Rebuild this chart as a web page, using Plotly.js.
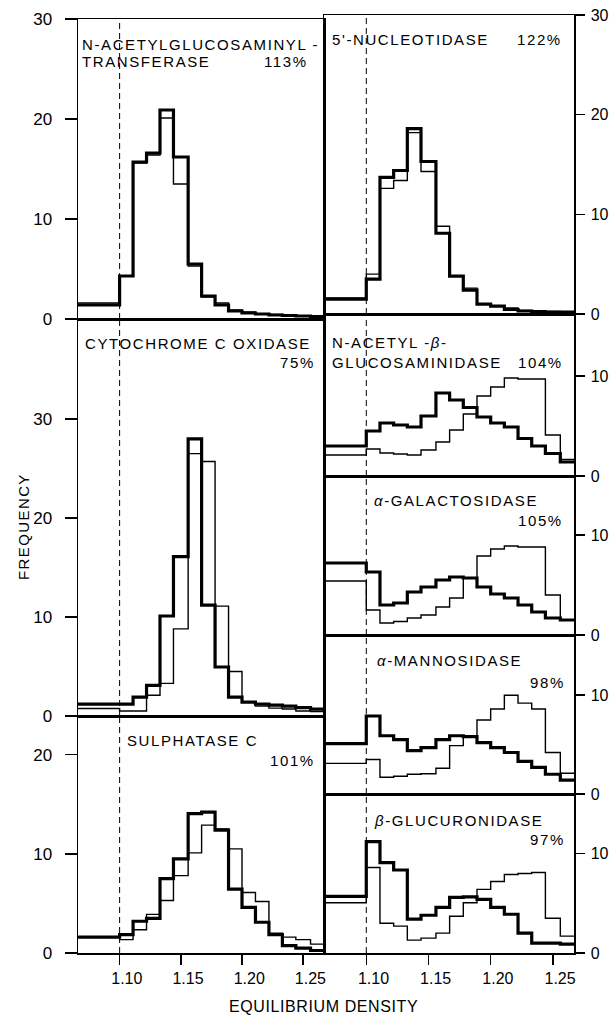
<!DOCTYPE html>
<html>
<head>
<meta charset="utf-8">
<script src="https://cdn.plot.ly/plotly-3.0.1.min.js"></script>
<style>html,body{margin:0;padding:0;background:#fff;}#chart{width:610px;height:1017px;}</style>
</head>
<body>
<div id="chart"></div>
<script>
// ---------------- DATA ----------------
// bin edges (equilibrium density, g/ml); first bin is the wide low-density bin
const densityEdges = [1.06, 1.100, 1.111, 1.122, 1.133, 1.144, 1.156, 1.167, 1.178, 1.189, 1.200, 1.211, 1.222, 1.233, 1.244, 1.256, 1.267];
const markerDensity = 1.10;
const densityTicks = [1.10, 1.15, 1.20, 1.25];
const densityTickText = ['1.10', '1.15', '1.20', '1.25'];

// N-acetylglucosaminyltransferase (113%)
const glcnacTransThick = [1.4, 4.3, 15.7, 16.6, 20.9, 16.2, 5.5, 2.3, 1.4, 0.8, 0.6, 0.5, 0.4, 0.35, 0.3, 0.25];
const glcnacTransThin  = [1.6, 4.3, 15.6, 16.4, 20.1, 13.5, 5.3, 2.2, 1.6, 0.9, 0.7, 0.5, 0.45, 0.4, 0.3, 0.3];
// 5'-nucleotidase (122%)
const nucleotidaseThick = [1.5, 3.5, 13.7, 14.4, 18.6, 15.3, 8.1, 3.8, 2.4, 1.0, 0.8, 0.45, 0.3, 0.25, 0.2, 0.2];
const nucleotidaseThin  = [1.6, 4.0, 12.6, 13.4, 18.2, 14.3, 8.8, 3.8, 2.6, 1.0, 0.8, 0.6, 0.35, 0.3, 0.25, 0.2];
// cytochrome c oxidase (75%)
const cytoxThick = [1.2, 1.2, 1.9, 3.1, 10.1, 16.1, 28.0, 11.2, 4.95, 1.9, 1.4, 1.2, 1.1, 1.0, 0.85, 0.7];
const cytoxThin  = [0.75, 0.5, 0.5, 2.1, 3.3, 8.8, 26.5, 25.7, 11.1, 4.5, 1.4, 1.0, 0.8, 0.7, 0.5, 0.45];
// sulphatase C (101%)
const sulphataseThick = [1.6, 1.85, 3.2, 3.5, 7.5, 9.5, 14.05, 14.2, 12.4, 6.45, 4.6, 3.1, 1.85, 0.75, 0.5, 0.25];
const sulphataseThin  = [1.6, 1.35, 2.35, 3.9, 5.3, 7.8, 10.1, 12.9, 12.5, 10.5, 6.1, 5.2, 2.0, 1.6, 1.35, 0.9];
// N-acetyl-beta-glucosaminidase (104%)
const hexosaminidaseThick = [3.0, 4.5, 5.3, 5.1, 4.9, 6.0, 8.3, 7.6, 6.85, 5.9, 5.3, 4.9, 3.75, 3.0, 2.25, 1.4];
const hexosaminidaseThin  = [2.1, 2.7, 2.3, 2.2, 2.1, 2.6, 3.4, 4.6, 6.2, 8.0, 8.9, 9.8, 9.7, 9.7, 4.1, 1.65];
// alpha-galactosidase (105%)
const galactosidaseThick = [7.2, 6.3, 3.0, 3.2, 4.3, 4.8, 5.5, 5.8, 5.7, 4.8, 4.1, 3.7, 3.0, 2.3, 1.7, 1.5];
const galactosidaseThin  = [5.4, 2.5, 1.2, 1.35, 1.7, 2.0, 2.8, 3.7, 5.7, 7.9, 8.6, 8.9, 8.8, 8.8, 4.0, 1.5];
// alpha-mannosidase (98%)
const mannosidaseThick = [5.1, 7.9, 5.9, 5.5, 4.4, 4.7, 5.5, 5.9, 5.8, 5.2, 4.7, 4.2, 3.3, 2.7, 2.0, 1.4];
const mannosidaseThin  = [3.1, 3.5, 1.7, 1.8, 2.0, 2.05, 2.6, 4.9, 5.8, 7.5, 8.6, 10.0, 9.2, 8.6, 4.2, 2.1];
// beta-glucuronidase (97%)
const glucuronidaseThick = [5.7, 11.2, 9.1, 8.35, 3.4, 3.8, 4.6, 5.6, 5.65, 5.4, 4.6, 3.9, 2.0, 1.0, 1.0, 0.9];
const glucuronidaseThin  = [5.05, 8.6, 3.0, 2.7, 1.3, 1.5, 2.0, 3.7, 5.05, 6.4, 7.2, 7.9, 8.0, 8.1, 3.5, 1.7];

// y-axis tick values per panel
const ticks30 = [0, 10, 20, 30];
const ticks20 = [0, 10, 20];
const ticks10 = [0, 10];

// ---------------- LAYOUT HELPERS ----------------
const W = 610, H = 1017;
const px = x => x / W;
const py = y => 1 - y / H;
const colLeft = [px(78), px(324)];
const colRight = [px(324), px(574)];
const xRange = [1.066, 1.267];

const panels = [
  {col: 'L', top: 19,  bottom: 319, ymax: 30,   ticks: ticks30, thick: glcnacTransThick, thin: glcnacTransThin, bottomAxis: false},
  {col: 'L', top: 319, bottom: 716, ymax: 40.1, ticks: ticks30, thick: cytoxThick, thin: cytoxThin, bottomAxis: false},
  {col: 'L', top: 716, bottom: 953, ymax: 23.9, ticks: ticks20, thick: sulphataseThick, thin: sulphataseThin, bottomAxis: true},
  {col: 'R', top: 15,  bottom: 314, ymax: 30,   ticks: ticks30, thick: nucleotidaseThick, thin: nucleotidaseThin, bottomAxis: false},
  {col: 'R', top: 314, bottom: 476, ymax: 16.2, ticks: ticks10, thick: hexosaminidaseThick, thin: hexosaminidaseThin, bottomAxis: false},
  {col: 'R', top: 476, bottom: 635, ymax: 15.9, ticks: ticks10, thick: galactosidaseThick, thin: galactosidaseThin, bottomAxis: false},
  {col: 'R', top: 635, bottom: 794, ymax: 16.1, ticks: ticks10, thick: mannosidaseThick, thin: mannosidaseThin, bottomAxis: false},
  {col: 'R', top: 794, bottom: 953, ymax: 16.0, ticks: ticks10, thick: glucuronidaseThick, thin: glucuronidaseThin, bottomAxis: true}
];

const FONT = 'Liberation Sans, Arial, Helvetica, sans-serif';
const traces = [];
const shapes = [];
const layout = {
  width: W, height: H,
  margin: {l: 0, r: 0, t: 0, b: 0},
  paper_bgcolor: '#fff', plot_bgcolor: 'rgba(0,0,0,0)',
  showlegend: false,
  font: {family: FONT, color: '#000', size: 15},
  annotations: []
};

const stepY = v => v.concat([v[v.length - 1]]);
// small lead space: the printed density labels sit slightly right of their ticks
const tickLead = '\u2002\u2009\u2009';

panels.forEach((p, i) => {
  const n = i + 1;
  const xa = 'x' + n, ya = 'y' + n;
  const xk = 'xaxis' + n, yk = 'yaxis' + n;
  traces.push({type: 'scatter', mode: 'lines', x: densityEdges, y: stepY(p.thin), xaxis: xa, yaxis: ya,
    line: {shape: 'hv', color: '#000', width: 1.4}, hoverinfo: 'skip'});
  traces.push({type: 'scatter', mode: 'lines', x: densityEdges, y: stepY(p.thick), xaxis: xa, yaxis: ya,
    line: {shape: 'hv', color: '#000', width: 3.2}, hoverinfo: 'skip'});
  layout[xk] = {
    domain: p.col === 'L' ? colLeft : colRight,
    range: xRange, anchor: ya,
    showline: true, mirror: true, linecolor: '#000', linewidth: 1.5,
    showgrid: false, zeroline: false,
    tickmode: 'array', tickvals: densityTicks, ticktext: densityTickText.map(t => tickLead + t),
    ticks: p.bottomAxis ? 'outside' : '', ticklen: 10, tickwidth: 1.5, tickcolor: '#000',
    showticklabels: p.bottomAxis, tickfont: {size: 16, family: FONT}
  };
  layout[yk] = {
    domain: [py(p.bottom), py(p.top)],
    range: [0, p.ymax], anchor: xa,
    side: p.col === 'L' ? 'left' : 'right',
    showline: true, mirror: true, linecolor: '#000', linewidth: 1.5,
    showgrid: false, zeroline: false,
    tickmode: 'array', tickvals: p.ticks, ticktext: p.ticks.map(String),
    ticks: 'outside', ticklen: p.col === 'L' ? 12 : 9, tickwidth: 1.5, tickcolor: '#000',
    ticklabelstandoff: p.col === 'L' ? 9 : 3,
    tickfont: {size: p.col === 'L' ? 17 : 16, family: FONT}
  };
  shapes.push({type: 'line', xref: xa, yref: ya + ' domain', x0: markerDensity, x1: markerDensity, y0: 0, y1: 1,
    line: {color: '#000', width: 1, dash: '6px,4px'}});
});
layout.shapes = shapes;

const LS = 'letter-spacing:1.6px';
function lab(text, x, y, anchor) {
  layout.annotations.push({text: '<span style="' + LS + '">' + text + '</span>', xref: 'paper', yref: 'paper',
    x: px(x), y: py(y), xanchor: anchor, yanchor: 'middle', showarrow: false,
    font: {size: 15, family: FONT, color: '#000'}});
}
lab('N-ACETYLGLUCOSAMINYL -', 80, 45, 'left');
lab('TRANSFERASE', 80, 61, 'left');
lab('113%', 310, 61, 'right');
lab("5'-NUCLEOTIDASE", 330, 40, 'left');
lab('122%', 564, 40, 'right');
lab('CYTOCHROME C OXIDASE', 83, 343, 'left');
lab('75%', 317, 362, 'right');
lab('N-ACETYL -<i>β</i>-', 330, 342, 'left');
lab('GLUCOSAMINIDASE', 330, 362, 'left');
lab('104%', 565, 362, 'right');
lab('<i>α</i>-GALACTOSIDASE', 372, 500, 'left');
lab('105%', 565, 520, 'right');
lab('<i>α</i>-MANNOSIDASE', 375, 660, 'left');
lab('98%', 567, 682, 'right');
lab('<i>β</i>-GLUCURONIDASE', 372, 820, 'left');
lab('97%', 567, 839, 'right');
lab('SULPHATASE C', 125, 740, 'left');
lab('101%', 317, 760, 'right');

layout.annotations.push({text: '<span style="letter-spacing:0.6px">EQUILIBRIUM DENSITY</span>', xref: 'paper', yref: 'paper',
  x: px(323), y: py(1006), xanchor: 'center', yanchor: 'middle', showarrow: false, font: {size: 16, family: FONT}});
layout.annotations.push({text: '<span style="letter-spacing:1.4px">FREQUENCY</span>', xref: 'paper', yref: 'paper',
  x: px(23), y: py(527), xanchor: 'center', yanchor: 'middle', textangle: -90, showarrow: false, font: {size: 15, family: FONT}});

Plotly.newPlot('chart', traces, layout, {displayModeBar: false, staticPlot: true});
</script>
</body>
</html>
